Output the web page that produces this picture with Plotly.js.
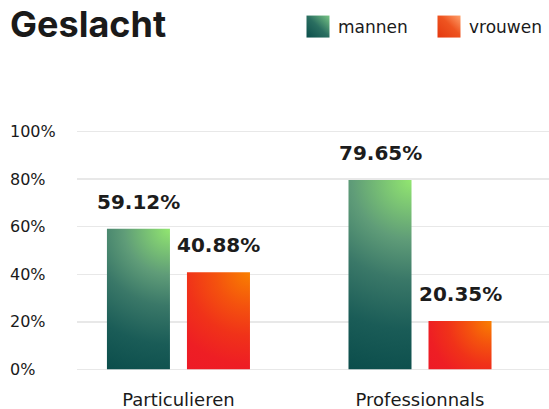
<!DOCTYPE html>
<html>
<head>
<meta charset="utf-8">
<script src="https://cdn.plot.ly/plotly-3.0.1.min.js"></script>
<style>
  html, body { margin: 0; padding: 0; background: #ffffff; }
  #chart { width: 549px; height: 409px; }
</style>
</head>
<body>
<div id="chart"></div>
<script>
// ---- data ----
const categories = ['Particulieren', 'Professionnals'];
const seriesNames = ['mannen', 'vrouwen'];
const mannen = [59.12, 79.65];
const vrouwen = [40.88, 20.35];
const yTickVals = [0, 20, 40, 60, 80, 100];
const yTickText = ['0%', '20%', '40%', '60%', '80%', '100%'];
const chartTitle = 'Geslacht';

// ---- styling ----
const FONT = 'DejaVu Sans, sans-serif';
const BARGAP = 0.3375;
const GROUPGAP = 0.2125;
const CAT_PX = 241.5;
const OFFSET = (1 - BARGAP) * CAT_PX / 4;

const seriesValues = [mannen, vrouwen];
const baseColors = ['#1f6659', '#ee3a1c'];

const traces = seriesValues.map((vals, i) => ({
  type: 'bar',
  name: seriesNames[i],
  x: categories,
  y: vals,
  marker: { color: baseColors[i], line: { width: 0 } },
  hoverinfo: 'skip'
}));

const annotations = [];
seriesValues.forEach((vals, i) => {
  vals.forEach((v, j) => {
    annotations.push({
      x: categories[j], y: v, xref: 'x', yref: 'y',
      text: v.toFixed(2) + '%',
      showarrow: false,
      xanchor: 'center', yanchor: 'bottom',
      xshift: i === 0 ? -OFFSET : OFFSET,
      yshift: 13,
      font: { family: FONT, size: 20, color: '#1c1c1c', weight: 'bold' }
    });
  });
});

const layout = {
  width: 549, height: 409,
  margin: { l: 77, r: 0, t: 121, b: 29, pad: 0 },
  paper_bgcolor: '#ffffff', plot_bgcolor: '#ffffff',
  title: {
    text: '<b>' + chartTitle + '</b>',
    font: { family: 'Inter, sans-serif', size: 36, color: '#1a1a1a' },
    xref: 'container', yref: 'container',
    x: 10 / 549, xanchor: 'left',
    y: 1 - 12 / 409, yanchor: 'top'
  },
  barmode: 'group',
  bargap: BARGAP,
  bargroupgap: GROUPGAP,
  showlegend: true,
  legend: {
    orientation: 'h',
    xref: 'container', yref: 'container',
    x: 298 / 549, xanchor: 'left',
    y: 1 - 9 / 409, yanchor: 'top',
    font: { family: FONT, size: 17, color: '#1a1a1a' },
    entrywidth: 86,
    bgcolor: 'rgba(0,0,0,0)'
  },
  xaxis: {
    type: 'category',
    range: [-0.42, 1.534],
    showgrid: false, zeroline: false, showline: false,
    ticks: '',
    ticklabelstandoff: 7,
    tickfont: { family: FONT, size: 18, color: '#1a1a1a' },
    fixedrange: true
  },
  yaxis: {
    range: [-4.5, 104.5],
    tickvals: yTickVals,
    ticktext: yTickText,
    showgrid: true, gridcolor: '#e8e8e8', gridwidth: 1.5,
    zeroline: false, showline: false, ticks: '',
    ticklabelposition: 'inside',
    ticklabelstandoff: -70,
    tickfont: { family: FONT, size: 16, color: '#1a1a1a' },
    fixedrange: true
  },
  annotations: annotations
};

const NS = 'http://www.w3.org/2000/svg';
function addStops(grad, stops) {
  stops.forEach(s => {
    const st = document.createElementNS(NS, 'stop');
    st.setAttribute('offset', s[0]);
    st.setAttribute('stop-color', s[1]);
    grad.appendChild(st);
  });
}

const barStops = [
  [[0, '#92e670'], [0.3, '#5f9c78'], [0.5, '#3a7868'], [0.75, '#1a5c57'], [1, '#0b4d4b']],
  [[0, '#f98000'], [0.3, '#f4520e'], [0.55, '#f03219'], [0.8, '#ee1e24'], [1, '#ed1a27']]
];
const legendStops = [
  [[0, '#0b4e4b'], [0.5, '#2a6e60'], [1, '#78c585']],
  [[0, '#e4380f'], [0.55, '#ee5420'], [1, '#ffa06a']]
];

Plotly.newPlot('chart', traces, layout, { staticPlot: true, displayModeBar: false }).then(gd => {
  const svgs = gd.querySelectorAll('svg.main-svg');
  const svg = svgs[0];
  const defs = document.createElementNS(NS, 'defs');
  svg.insertBefore(defs, svg.firstChild);

  const barTraces = gd.querySelectorAll('.barlayer .trace');
  barTraces.forEach((tr, i) => {
    tr.querySelectorAll('path').forEach((p, j) => {
      const bb = p.getBBox();
      const g = document.createElementNS(NS, 'radialGradient');
      const id = 'bg' + i + '_' + j;
      g.setAttribute('id', id);
      g.setAttribute('gradientUnits', 'userSpaceOnUse');
      const cx = bb.x + bb.width, cy = bb.y;
      g.setAttribute('cx', cx); g.setAttribute('cy', cy);
      g.setAttribute('fx', cx); g.setAttribute('fy', cy);
      g.setAttribute('r', Math.hypot(bb.width, bb.height));
      addStops(g, barStops[i]);
      defs.appendChild(g);
      p.style.fill = 'url(#' + id + ')';
    });
  });

  // legend swatches (legend may live in another svg layer)
  let lsvg = svg;
  const legendNode = gd.querySelector('.legend');
  if (legendNode) lsvg = legendNode.ownerSVGElement || svg;
  let ldefs = defs;
  if (lsvg !== svg) {
    ldefs = document.createElementNS(NS, 'defs');
    lsvg.insertBefore(ldefs, lsvg.firstChild);
  }
  gd.querySelectorAll('.legend .traces').forEach((tr, i) => {
    const paths = tr.querySelectorAll('.legendpoints path');
    if (!paths.length) return;
    const g = document.createElementNS(NS, 'linearGradient');
    const id = 'lg' + i;
    g.setAttribute('id', id);
    g.setAttribute('x1', '0'); g.setAttribute('y1', '1');
    g.setAttribute('x2', '1'); g.setAttribute('y2', '0');
    addStops(g, legendStops[i]);
    ldefs.appendChild(g);
    paths.forEach(p => {
      p.setAttribute('d', 'M11.5,11H-11.5V-11H11.5Z');
      p.style.fill = 'url(#' + id + ')';
      p.style.stroke = 'none';
    });
  });
});
</script>
</body>
</html>
